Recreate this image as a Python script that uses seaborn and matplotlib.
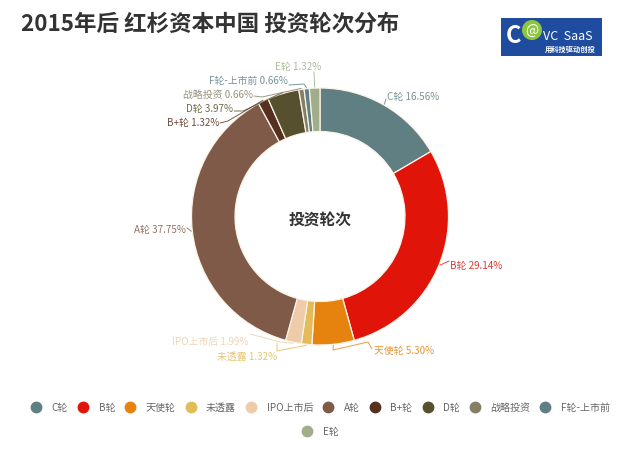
import numpy as np
import matplotlib
matplotlib.use("Agg")
import matplotlib.pyplot as plt
from matplotlib import font_manager as fm
from matplotlib.lines import Line2D
from matplotlib.patches import Rectangle, Circle
import seaborn as sns

categories = ["C轮", "B轮", "天使轮", "未透露", "IPO上市后", "A轮", "B+轮", "D轮", "战略投资", "F轮-上市前", "E轮"]
values = [16.56, 29.14, 5.30, 1.32, 1.99, 37.75, 1.32, 3.97, 0.66, 0.66, 1.32]
colors = ["#5f7f82", "#e1140a", "#e6820e", "#e3bb58", "#eeccaa", "#7f5a48",
          "#55301f", "#57502f", "#857f68", "#5f7f86", "#a0ae8c"]

# label anchor (x, y, ha) and elbows in reference pixels
label_pos = [(387, 97, "left"), (450, 266, "left"), (374, 351, "left"), (277, 357, "right"),
             (248, 342, "right"), (186, 230, "right"), (219, 123, "right"), (233, 109, "right"),
             (253, 95, "right"), (288, 81, "right"), (321, 67, "right")]
elbows = [[(386, 100)], [(449, 262)], [(333, 351), (368, 343), (372, 350)], [(277, 352), (277, 344)],
          [(280, 343), (250, 335)], [(187, 229)], [(228, 122), (220, 124)], [(243, 112), (234, 112)],
          [(262, 98), (254, 97)], [(304, 85), (289, 86)], [(314, 73)]]

# matplotlib's font list misses the CJK family, so register the installed files directly
font_files = ["/usr/share/fonts/opentype/noto/NotoSansCJK-Regular.ttc",
              "/usr/share/fonts/opentype/noto/NotoSansCJK-Bold.ttc"]
for path in font_files:
    fm.fontManager.addfont(path)
cjk_name = fm.get_font(font_files[0]).family_name

sns.set_theme(style="white")
plt.rcParams["font.family"] = [cjk_name, "DejaVu Sans"]
palette = sns.color_palette(colors)

fig = plt.figure(figsize=(6.4, 4.52), dpi=100, facecolor="white")
ax = fig.add_axes([0, 0, 1, 1])
cx, cy, R, r = 320, 217.5, 128.5, 85
wedges, _ = ax.pie(values, colors=palette, startangle=-90, counterclock=True, center=(cx, cy), radius=R,
                   wedgeprops=dict(width=R - r, edgecolor="#fbf3e6", linewidth=0.9))
ax.set_xlim(0, 640)
ax.set_ylim(452, 0)
ax.set_aspect("equal")
ax.axis("off")

for w, c, col, v, pos, el in zip(wedges, categories, palette, values, label_pos, elbows):
    a = np.deg2rad((w.theta1 + w.theta2) / 2)
    p0 = (cx + (R + 1) * np.cos(a), cy + (R + 1) * np.sin(a))
    pts = [p0] + el
    ax.plot([p[0] for p in pts], [p[1] for p in pts], color=col, lw=0.7, alpha=0.8, solid_joinstyle="round")
    ax.text(pos[0], pos[1], f"{c} {v:.2f}%", color=col, fontsize=7.1, ha=pos[2], va="center", alpha=0.85)

ax.text(21, 24, "2015年后 红杉资本中国 投资轮次分布", fontsize=16.2, fontweight="bold", color="#333333", ha="left", va="center")
ax.text(320.5, 220.5, "投资轮次", fontsize=11.3, fontweight="bold", color="#333333", ha="center", va="center")

handles = [Line2D([], [], ls="", marker="o", ms=7.5, color=col, label=c) for c, col in zip(categories, palette)]
leg_kw = dict(frameon=False, fontsize=7.2, labelcolor="#666666", handletextpad=0.95, columnspacing=0.9,
              borderpad=0, borderaxespad=0, handlelength=1.2, loc="center", bbox_transform=ax.transData)
leg1 = ax.legend(handles=handles[:10], ncol=10, bbox_to_anchor=(320, 408), **leg_kw)
ax.add_artist(leg1)
ax.legend(handles=handles[10:], ncol=1, bbox_to_anchor=(320, 432), **leg_kw)

# logo
ax.add_patch(Rectangle((501, 19), 101, 38, fc="#1f4c9f", ec="none"))
ax.add_patch(Circle((532, 31), 10, fc="#8cc63f", ec="none"))
ax.text(532, 31, "@", fontsize=10, color="white", ha="center", va="center", fontstyle="italic")
ax.text(506, 36, "C", fontsize=17, color="white", ha="left", va="center", fontweight="bold")
ax.text(543, 37, "VC  SaaS", fontsize=9, color="white", ha="left", va="center")
ax.text(570, 49, "用科技驱动创投", fontsize=5.2, color="white", ha="center", va="center", fontweight="bold")

fig.savefig("out.png", dpi=100, facecolor="white")
